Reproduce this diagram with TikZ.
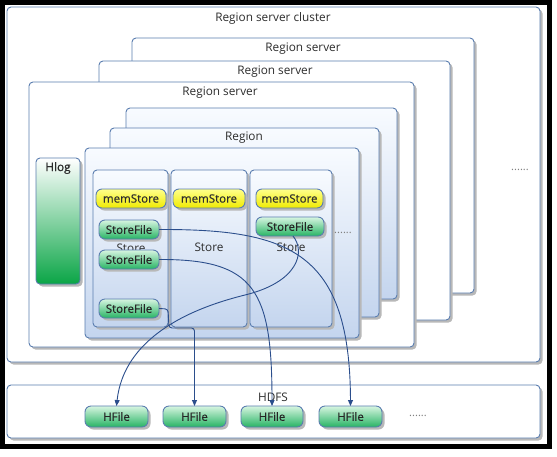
\documentclass[tikz,border=0pt]{standalone}
\usepackage{fontspec}
\setmainfont{Open Sans}
\newfontfamily\semibf[FakeBold=0.6]{Open Sans}
\usetikzlibrary{shadows,arrows.meta}
\definecolor{bord}{RGB}{90,125,175}
\definecolor{arrc}{RGB}{43,78,140}
\definecolor{regtop}{RGB}{248,251,255}
\definecolor{regbot}{RGB}{196,213,238}
\definecolor{memtop}{RGB}{255,255,140}
\definecolor{membot}{RGB}{240,235,0}
\definecolor{sftop}{RGB}{215,245,225}
\definecolor{sfbot}{RGB}{40,180,100}
\definecolor{hlbot}{RGB}{10,165,70}
\definecolor{txt}{RGB}{45,45,45}
\newcommand{\mkbox}[6]{%
  \node[#2, minimum width={(#5)-(#3)}, minimum height={(#6)-(#4)}] (#1) at ({((#3)+(#5))/2},{((#4)+(#6))/2}) {};}
\newcommand{\mktbox}[7]{%
  \node[#2, minimum width={(#5)-(#3)}, minimum height={(#6)-(#4)}] (#1) at ({((#3)+(#5))/2},{((#4)+(#6))/2}) {#7};}
\begin{document}
\begin{tikzpicture}[x=1pt,y=-1pt,
  base/.style={draw=bord, line width=0.9pt, rounded corners=4pt, inner sep=0pt, outer sep=0pt,
    drop shadow={shadow xshift=2.5pt, shadow yshift=-2.5pt, fill=black!28, opacity=1}},
  wbox/.style={base, fill=white},
  gbox/.style={base, top color=regtop, bottom color=regbot},
  hlogbox/.style={base, top color=white, bottom color=hlbot},
  membox/.style={base, rounded corners=6pt, top color=memtop, bottom color=membot, text=txt, font=\semibf\fontsize{11.5}{13}\selectfont},
  sfbox/.style={base, rounded corners=6pt, top color=sftop, bottom color=sfbot, text=black!85, font=\semibf\fontsize{11.5}{13}\selectfont},
  lbl/.style={text=txt, inner sep=0pt, font=\fontsize{11.8}{13}\selectfont},
  blbl/.style={lbl, font=\semibf\fontsize{11.8}{13}\selectfont},
  dots/.style={text=black!50, inner sep=0pt, font=\fontsize{11}{12}\selectfont},
  arr/.style={draw=arrc, line width=0.9pt, -{Triangle[length=6pt,width=5pt]}}]
\useasboundingbox (0,0) rectangle (557,456);
\node[draw=black, line width=5pt, minimum width=546.5pt, minimum height=443.5pt, inner sep=0pt, outer sep=0pt,
  drop shadow={shadow xshift=2pt, shadow yshift=-3pt, fill=black!30, opacity=1}, fill=white] (frame) at (275.75,224.25) {};
% cluster
\mkbox{cluster}{wbox}{7}{7}{540}{362}
\node[lbl] (tcluster) at (273,18) {Region server cluster};
\node[dots] (dright) at (520,170) {......};
% servers
\mkbox{srv3}{wbox}{132}{38}{474}{293}
\node[lbl] (tsrv3) at (303,49) {Region server};
\mkbox{srv2}{wbox}{99}{61}{450}{320}
\node[lbl] (tsrv2) at (275,72) {Region server};
\mkbox{srv1}{wbox}{29}{82}{414}{347}
\node[lbl] (tsrv1) at (220,93) {Region server};
% regions
\mkbox{reg3}{gbox}{126}{108}{397}{299}
\mkbox{reg2}{gbox}{110}{128}{379}{317}
\node[lbl] (treg) at (244,138) {Region};
\mkbox{reg1}{gbox}{85}{148}{359}{338}
% hlog
\mkbox{hlog}{hlogbox}{36}{158}{80}{284}
\node[blbl] (thlog) at (58,168) {Hlog};
% stores
\mkbox{st1}{gbox}{93}{170}{168}{327}
\mkbox{st2}{gbox}{171}{170}{247}{327}
\mkbox{st3}{gbox}{250}{170}{332}{327}
\node[lbl] (tst1) at (131,248) {Store};
\node[lbl] (tst2) at (209,247) {Store};
\node[lbl] (tst3) at (291,247) {Store};
\node[dots] (dst) at (343,233) {......};
% memstores
\mktbox{m1}{membox}{96}{189}{166}{208}{memStore}
\mktbox{m2}{membox}{173}{189}{245}{208}{memStore}
\mktbox{m3}{membox}{256}{189}{323}{208}{memStore}
% storefiles
\mktbox{sf1}{sfbox}{99}{220}{159}{239}{StoreFile}
\mktbox{sf2}{sfbox}{99}{250}{159}{269}{StoreFile}
\mktbox{sf3}{sfbox}{99}{299}{159}{318}{StoreFile}
\mktbox{sf4}{sfbox}{256}{217}{324}{236}{StoreFile}
% hdfs
\mkbox{hdfs}{wbox}{7}{385}{540}{438}
\node[lbl] (thdfs) at (273,397) {HDFS};
\mktbox{hf1}{sfbox}{85}{406}{148}{427}{HFile}
\mktbox{hf2}{sfbox}{163}{406}{226}{427}{HFile}
\mktbox{hf3}{sfbox}{241}{406}{303}{427}{HFile}
\mktbox{hf4}{sfbox}{319}{406}{382}{427}{HFile}
\node[dots] (dhdfs) at (418,416) {......};
% arrows
\draw[arr] (sf1.east) .. controls (290,229) and (350,252) .. (hf4.north);
\draw[arr] (sf2.east) .. controls (255,259) and (272,290) .. (hf3.north);
\draw[arr, rounded corners=3pt] (sf3.east) -- (168,309) -- (169,328) -| (hf2.north);
\draw[arr] ([xshift=3pt]sf4.south) .. controls (306,252) and (298,282) .. (245,295) .. controls (160,316) and (122,355) .. (hf1.north);
\end{tikzpicture}
\end{document}
